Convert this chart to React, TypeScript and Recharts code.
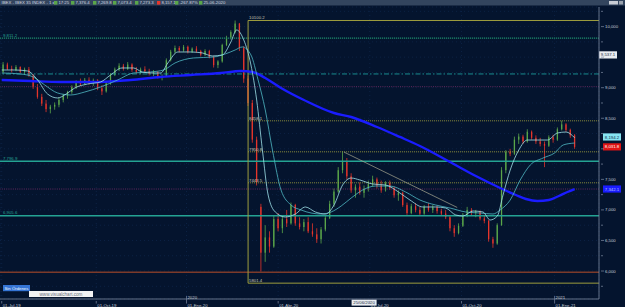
import React from "react";
import { ComposedChart, Bar, Line, XAxis, YAxis, ReferenceLine, CartesianGrid } from "recharts";

const FONT = "Liberation Sans, Arial, sans-serif";
const BG = "#04142e";
const AXIS = "#7e8ba2";
const TXT = "#c4ccd6";
const GREEN = "#5aa64a";
const RED = "#e5352b";
const FIB = "#9d9d3e";
const TEAL = "#24a393";

// 3-trading-day candles, IBEX 35, Jul 2019 - Jan 2021
const open = [9260,9380,9310,9290,9340,9260,9300,9200,9010,8850, 8740,8650,8690,8720,8800,8870,8930,9010,9090,9060, 9130,9080,9120,8990,8940,9070,9210,9300,9360,9310, 9380,9290,9260,9300,9270,9230,9250,9180,9190,9450, 9590,9650,9610,9670,9590,9640,9600,9540,9600,9500, 9370,9430,9700,9820,9910,10050,9650,9150,8750,8150, 7050,6300,6550,6400,6850,6700,6850,6780,7080,6780, 6720,6800,6650,6600,6520,6680,6870,7100,7300,7650, 7800,7550,7320,7380,7280,7350,7420,7500,7400,7320, 7440,7360,7240,7280,7080,6950,7060,7000,6940,7050, 7000,7040,6980,6940,6880,6700,6620,6740,6920,7000, 6950,6970,6860,6820,6520,6450,6750,7650,7950,7920, 8150,8200,8120,8280,8180,8120,8080,8050,8190,8150, 8320,8400,8310,8220];
const high = [9420,9410,9360,9370,9350,9330,9340,9220,9060,8900, 8800,8720,8760,8840,8900,8950,9040,9120,9150,9160, 9170,9150,9140,9040,9100,9240,9330,9400,9390,9420, 9400,9340,9330,9350,9310,9290,9270,9220,9480,9620, 9690,9680,9700,9690,9660,9680,9620,9630,9620,9520, 9450,9720,9850,9940,10100,10060,9680,9200,8800,8200, 7100,6750,6650,6900,6950,6900,7000,7120,7100,6880, 6850,6880,6780,6700,6720,6900,7150,7350,7700,7960, 7850,7600,7420,7450,7400,7480,7560,7530,7480,7470, 7480,7380,7320,7300,7120,7100,7110,7050,7080,7110, 7080,7070,7020,7000,6900,6750,6780,6950,7050,7030, 7000,6990,6920,6840,6560,6780,7700,7980,8000,8200, 8250,8230,8320,8300,8220,8180,8120,8220,8230,8350, 8460,8420,8330,8240];
const low = [9240,9290,9250,9270,9240,9220,9180,8980,8820,8700, 8600,8580,8640,8680,8760,8820,8900,8980,9030,9040, 9050,9030,8960,8880,8920,9050,9190,9270,9280,9290, 9260,9230,9220,9240,9200,9190,9150,9120,9180,9430, 9560,9580,9590,9560,9570,9570,9510,9520,9480,9330, 9320,9410,9680,9790,9890,9600,9080,8700,8100,7400, 5990,6150,6300,6380,6650,6620,6720,6760,6740,6680, 6650,6620,6560,6460,6450,6650,6850,7050,7280,7600, 7500,7280,7200,7250,7200,7300,7380,7350,7280,7300, 7330,7200,7150,7050,6920,6930,6960,6900,6920,6970, 6950,6940,6900,6850,6650,6560,6600,6720,6880,6900, 6880,6830,6780,6480,6380,6430,6740,7600,7880,7900, 8080,8080,8100,8150,8080,8040,7700,8030,8100,8130, 8300,8280,8180,8000];
const close = [9380,9310,9290,9340,9260,9300,9200,9010,8850,8740, 8650,8690,8720,8800,8870,8930,9010,9090,9060,9130, 9080,9120,8990,8940,9070,9210,9300,9360,9310,9380, 9290,9260,9300,9270,9230,9250,9180,9190,9450,9590, 9650,9610,9670,9590,9640,9600,9540,9600,9500,9370, 9430,9700,9820,9910,10050,9650,9150,8750,8150,7450, 6300,6550,6400,6850,6700,6850,6780,7080,6780,6720, 6800,6650,6600,6520,6680,6870,7100,7300,7650,7800, 7550,7320,7380,7280,7350,7420,7500,7400,7320,7440, 7360,7240,7280,7080,6950,7060,7000,6940,7050,7000, 7040,6980,6940,6880,6700,6620,6740,6920,7000,6950, 6970,6860,6820,6520,6450,6750,7650,7950,7920,8150, 8200,8120,8280,8180,8120,8080,8050,8190,8150,8320, 8400,8310,8220,8030];

// moving averages (trading-day index, value)
const fastDays = [0,9,18,25,32,39,45,51,60,69,76,84,92,98,105,111,116,123,132,140,147,154,160,164,169,174,178,182,186,191,198,205,212,219,226,232,238,244,250,259,268,277,285,294,303,310,317,322,329,336,341,346,350,355,361,367,374,381,388,394,400];
const fastVals = [9290,9290,9274,9127,8897,8832,8897,8996,9061,9094,9208,9323,9323,9258,9241,9241,9405,9585,9585,9569,9520,9536,9749,9945,9781,9372,8799,7981,7244,6966,6884,6933,7048,6966,6933,7080,7408,7522,7490,7424,7408,7293,7162,7048,7048,7031,6917,6900,6982,6966,6835,6900,7244,7653,7981,8144,8144,8144,8259,8275,8180];
const slowDays = [0,13,22,30,39,48,58,69,81,92,104,113,121,134,148,156,163,168,174,179,184,189,195,202,209,216,223,230,237,244,252,261,271,282,292,303,313,324,334,343,348,355,362,369,378,386,392,400];
const slowVals = [9241,9225,9176,9045,8914,8881,8930,9012,9127,9241,9258,9290,9405,9487,9503,9552,9618,9667,9536,9127,8636,7981,7326,7080,6999,6949,6933,6966,7064,7195,7326,7391,7391,7293,7162,7080,7031,6966,6949,6933,6999,7162,7490,7735,7850,7932,8063,8095];
const ma200Days = [0,20,41,69,90,111,132,153,167,175,184,195,211,232,244,262,278,292,313,331,348,359,366,374,382,389,395,400];
const ma200Vals = [9127,9110,9094,9094,9127,9176,9208,9241,9274,9258,9159,8996,8799,8586,8521,8357,8194,8046,7784,7555,7359,7244,7179,7146,7162,7228,7293,7342];

const xTicks = [0, 66, 129, 193, 257, 321, 386];
const xLabels = ["01-Jul-19", "01-Oct-19", "01-Ene-20", "01-Abr-20", "01-Jul-20", "01-Oct-20", "01-Ene-21"];
const xYears = ["", "", "2020", "", "", "", "2021"];
const yTicks = [5750, 6000, 6250, 6500, 6750, 7000, 7250, 7500, 7750, 8000, 8250, 8500, 8750, 9000, 9250, 9500, 9750, 10000, 10250];
const yLabelled = [6000, 6500, 7000, 7500, 8500, 9000, 10000];

const fibLevels = [10100.2, 8458.1, 7950.8, 7443.5, 5801.4];
const fibLabels = ["10100.2", "8458.1", "7950.8", "7443.5", "5801.4"];
const fibStartDay = 172;
const tealLevels = [9811.2, 7796.9, 6905.6];
const tealLabels = ["9,811.2", "7,796.9", "6,905.6"];
const dashDotLevel = 9225;
const purpleLevels = [9017, 7342];
const brownLevel = 5980;
const trendDays = [239, 318];
const trendVals = [7946, 7040];
const cursorDay = 253;

const candles = close.map((c, i) => ({ day: i * 3 + 1, open: open[i], high: high[i], low: low[i], close: c }));
const toSeries = (d: number[], v: number[]) => d.map((day, i) => ({ day, v: v[i] }));
const fastMA = toSeries(fastDays, fastVals);
const slowMA = toSeries(slowDays, slowVals);
const ma200 = toSeries(ma200Days, ma200Vals);

const Candle = (p: any) => {
  const { x, y, width, height, payload } = p;
  if (x == null || y == null) return null;
  const top = Math.min(y, y + height);
  const h = Math.abs(height);
  const span = payload.high - payload.low || 1;
  const yO = top + ((payload.high - payload.open) / span) * h;
  const yC = top + ((payload.high - payload.close) / span) * h;
  const color = payload.close >= payload.open ? GREEN : RED;
  const cx = x + width / 2;
  return (
    <g>
      <line x1={cx} x2={cx} y1={top} y2={top + h} stroke={color} strokeWidth={0.8} />
      <rect x={x} y={Math.min(yO, yC)} width={width} height={Math.max(Math.abs(yC - yO), 0.8)} fill={color} />
    </g>
  );
};

const XTick = (p: any) => {
  const i = xTicks.indexOf(p.payload.value);
  const year = xYears[i];
  return (
    <g>
      <line x1={p.x} x2={p.x} y1={p.y - (year ? 5 : 0)} y2={p.y + 2.5} stroke={AXIS} strokeWidth={0.7} />
      {year && <text x={p.x + 1} y={p.y - 1.6} fontSize={4.3} fill={TXT} fontFamily={FONT}>{year}</text>}
      <text x={p.x + 1} y={p.y + 5.9} fontSize={4.3} fill={TXT} fontFamily={FONT}>{xLabels[i]}</text>
    </g>
  );
};

const YTick = (p: any) => {
  const v = p.payload.value;
  const major = v % 500 === 0;
  return (
    <g>
      <line x1={p.x} x2={p.x + (major ? 3 : 2)} y1={p.y} y2={p.y} stroke={AXIS} strokeWidth={0.7} />
      {yLabelled.includes(v) && <text x={p.x + 4} y={p.y + 1.5} fontSize={4.3} fill={TXT} fontFamily={FONT}>{v.toLocaleString("en-US")}</text>}
    </g>
  );
};

const tagAbove = (text: string, color: string, dx: number) => (p: any) => (
  <text x={p.viewBox.x + dx} y={p.viewBox.y - 1.3} fontSize={4.3} fill={color} fontFamily={FONT}>{text}</text>
);

const priceBox = (text: string, bg: string, fg: string, dx: number) => (p: any) => {
  const bx = p.viewBox.x + p.viewBox.width + dx;
  const y = p.viewBox.y;
  return (
    <g>
      <rect x={bx} y={y - 3.6} width={18} height={7.2} fill={bg} />
      <text x={bx + 9} y={y + 1.6} fontSize={4.3} textAnchor="middle" fill={fg} fontFamily={FONT}>{text}</text>
    </g>
  );
};

const cursorBox = (p: any) => {
  const { x, y, height } = p.viewBox;
  return (
    <g>
      <rect x={x - 12.5} y={y + height + 0.6} width={25} height={6} fill="#e8ecf0" />
      <text x={x} y={y + height + 5.2} fontSize={4.3} textAnchor="middle" fill="#1a2a40" fontFamily={FONT}>25/06/2020</text>
    </g>
  );
};

const headerItems = [
  { x: 54, c: GREEN, t: "17:25" },
  { x: 71, c: GREEN, t: "7,376.4" },
  { x: 93, c: GREEN, t: "7,269.8" },
  { x: 113, c: GREEN, t: "7,073.4" },
  { x: 135, c: GREEN, t: "7,273.3" },
  { x: 157, c: RED, t: "8,157.1" },
  { x: 175, c: GREEN, t: "-267.87%" },
  { x: 199, c: GREEN, t: "25-06-2020" },
];

export default function App() {
  return (
    <div style={{ position: "fixed", left: 0, top: 0, width: 625, height: 307, background: BG, overflow: "hidden" }}>
      <ComposedChart width={625} height={307} data={candles} margin={{ top: 7, right: 0, bottom: 0, left: 0 }}>
        <CartesianGrid stroke="#0c2244" strokeDasharray="1 3" />
        <XAxis dataKey="day" type="number" domain={[-1.2, 417]} ticks={xTicks} interval={0} tick={(p: any) => <XTick {...p} />} tickLine={false} tickSize={0} height={8} axisLine={{ stroke: AXIS, strokeWidth: 0.8 }} allowDataOverflow />
        <YAxis orientation="right" type="number" width={26} domain={[5542, 10321]} ticks={yTicks} interval={0} tick={(p: any) => <YTick {...p} />} tickLine={false} tickSize={0} axisLine={{ stroke: AXIS, strokeWidth: 0.8 }} allowDataOverflow />

        <ReferenceLine y={tealLevels[0]} stroke="#1d8a6c" strokeWidth={1.4} strokeDasharray="1.2 0.8" label={tagAbove(tealLabels[0], TEAL, 3)} />
        <ReferenceLine y={dashDotLevel} stroke="#1b9a9c" strokeWidth={0.9} strokeDasharray="5 2 1.5 2" />
        {purpleLevels.map((v) => (
          <ReferenceLine key={v} y={v} stroke="#6e2a62" strokeWidth={0.9} strokeDasharray="1 1.2" />
        ))}
        <ReferenceLine y={tealLevels[1]} stroke={TEAL} strokeWidth={1.4} label={tagAbove(tealLabels[1], TEAL, 3)} />
        <ReferenceLine y={tealLevels[2]} stroke={TEAL} strokeWidth={1.4} label={tagAbove(tealLabels[2], TEAL, 3)} />
        <ReferenceLine y={brownLevel} stroke="#7c3a2a" strokeWidth={1.3} />

        {fibLevels.map((v, i) => (
          <ReferenceLine
            key={v}
            segment={[{ x: fibStartDay, y: v }, { x: 417, y: v }]}
            stroke={FIB}
            strokeWidth={i === 0 || i === fibLevels.length - 1 ? 1 : 0.9}
            strokeDasharray={i === 0 || i === fibLevels.length - 1 ? undefined : "1 1"}
            label={tagAbove(fibLabels[i], "#c8c8b4", 1)}
          />
        ))}
        <ReferenceLine segment={[{ x: fibStartDay, y: fibLevels[0] }, { x: fibStartDay, y: fibLevels[4] }]} stroke={FIB} strokeWidth={1} />
        <ReferenceLine segment={[{ x: trendDays[0], y: trendVals[0] }, { x: trendDays[1], y: trendVals[1] }]} stroke="#a9a992" strokeWidth={0.7} />

        <Bar dataKey={(d: any) => [d.low, d.high]} barSize={2.6} shape={(p: any) => <Candle {...p} />} isAnimationActive={false} />

        <Line data={ma200} dataKey="v" type="monotone" stroke="#1a1cff" strokeWidth={2.4} dot={false} activeDot={false} isAnimationActive={false} />
        <Line data={slowMA} dataKey="v" type="monotone" stroke="#4fb9c4" strokeWidth={0.8} dot={false} activeDot={false} isAnimationActive={false} />
        <Line data={fastMA} dataKey="v" type="monotone" stroke="#9fe2ea" strokeWidth={0.8} dot={false} activeDot={false} isAnimationActive={false} />

        <ReferenceLine y={9537.1} stroke="none" label={priceBox("9,537.1", "#e8ecf0", "#1a2a40", 0)} />
        <ReferenceLine y={8194.2} stroke="none" label={priceBox("8,194.2", "#86e4f2", "#10304a", 4)} />
        <ReferenceLine y={8031.8} stroke="none" label={priceBox("8,031.8", "#e01414", "#ffffff", 4)} />
        <ReferenceLine y={7342.1} stroke="none" label={priceBox("7,342.1", "#1a1cff", "#b8c4ff", 4)} />
        <ReferenceLine x={cursorDay} stroke="none" label={cursorBox} />
      </ComposedChart>

      <svg width={625} height={307} style={{ position: "absolute", left: 0, top: 0, pointerEvents: "none" }}>
        <rect x={0} y={0} width={625} height={5.5} fill="#33455e" />
        <text x={1.5} y={4.3} fontSize={4.3} fill="#d4dae2" fontFamily={FONT}>IBEX - IBEX 35 INDEX - 1 d</text>
        {headerItems.map((h) => (
          <g key={h.x}>
            <rect x={h.x} y={1} width={3.4} height={3.6} fill={h.c} />
            <text x={h.x + 4.4} y={4.3} fontSize={4.3} fill="#d4dae2" fontFamily={FONT}>{h.t}</text>
          </g>
        ))}
        <rect x={609} y={1} width={9} height={3.5} fill="#c8ccd4" />
        <rect x={619} y={1} width={4} height={3.5} fill="#9aa2ae" />
        <rect x={3} y={285} width={27} height={6.2} fill="#3474d4" />
        <text x={4.5} y={289.7} fontSize={4.3} fill="#eef4ff" fontFamily={FONT}>Sin Órdenes</text>
        <rect x={29} y={291} width={64} height={6} fill="#f2f2f2" />
        <text x={61} y={295.6} fontSize={4.6} textAnchor="middle" fill="#6a7280" fontFamily={FONT}>www.visualchart.com</text>
      </svg>
    </div>
  );
}
